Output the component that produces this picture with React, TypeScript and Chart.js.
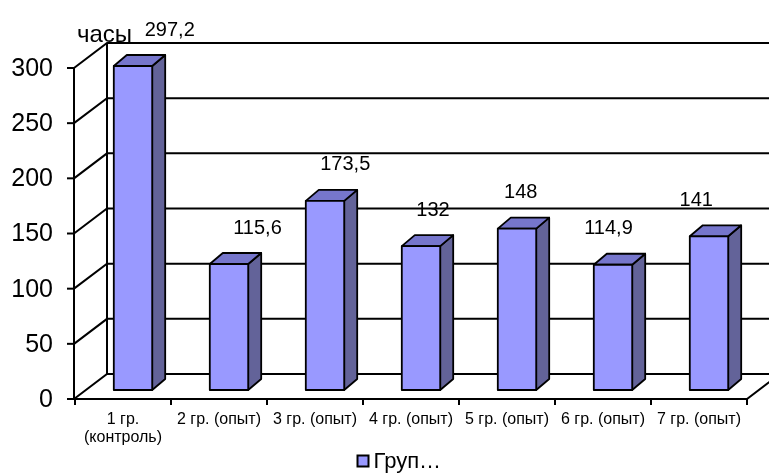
import React, { useEffect, useRef } from "react";
import { Chart, registerables } from "chart.js";

Chart.register(...registerables);

// Hours per group
const categories: (string | string[])[] = [
  ["1 гр.", "(контроль)"],
  "2 гр. (опыт)",
  "3 гр. (опыт)",
  "4 гр. (опыт)",
  "5 гр. (опыт)",
  "6 гр. (опыт)",
  "7 гр. (опыт)",
];
const hours = [297.2, 115.6, 173.5, 132, 148, 114.9, 141];
const yTicks = [0, 50, 100, 150, 200, 250, 300];
const axisTitle = "часы";
const legendText = "Груп…";

const FONT = "'Liberation Sans', Arial, sans-serif";

// Oblique projection of the plot box
const WALL_DX = 33;
const WALL_DY = -25;
// Bar position inside the box and bar depth
const BAR_DX = 10;
const BAR_DY = -9;
const BAR_SX = 13;
const BAR_SY = -11;
const BAR_K = 0.988;

const FRONT = "#9999FF";
const SIDE = "#636399";
const TOP = "#7676CC";

const fmt = (v: number) => String(v).replace(".", ",");

const box3d = {
  id: "box3d",
  beforeDatasetsDraw(chart: any) {
    const { ctx, chartArea } = chart;
    const y = chart.scales.y;
    const x = chart.scales.x;
    const L = chartArea.left - 1;
    const R = chartArea.right;
    const B = y.getPixelForValue(0);
    const W = chart.width;
    ctx.save();
    ctx.strokeStyle = "#000";
    ctx.lineWidth = 2;
    ctx.lineCap = "butt";

    // back wall gridlines + side wall diagonals
    yTicks.forEach((t) => {
      const py = y.getPixelForValue(t);
      ctx.beginPath();
      ctx.moveTo(L, py);
      ctx.lineTo(L + WALL_DX, py + WALL_DY);
      ctx.lineTo(W + 2, py + WALL_DY);
      ctx.stroke();
      // tick mark
      ctx.beginPath();
      ctx.moveTo(L - 7, py);
      ctx.lineTo(L, py);
      ctx.stroke();
    });
    const topY = y.getPixelForValue(300);
    // front and back vertical edges of the side wall
    ctx.beginPath();
    ctx.moveTo(L, topY);
    ctx.lineTo(L, B);
    ctx.moveTo(L + WALL_DX, topY + WALL_DY);
    ctx.lineTo(L + WALL_DX, B + WALL_DY);
    ctx.stroke();

    // floor front edge and right edge
    ctx.beginPath();
    ctx.moveTo(L, B);
    ctx.lineTo(R, B);
    ctx.lineTo(R + WALL_DX, B + WALL_DY);
    ctx.stroke();

    // category tick marks
    const n = categories.length;
    for (let i = 0; i <= n; i++) {
      const px = i < n
        ? x.getPixelForValue(i) - (x.getPixelForValue(1) - x.getPixelForValue(0)) / 2
        : R;
      ctx.beginPath();
      ctx.moveTo(px, B);
      ctx.lineTo(px, B + 6);
      ctx.stroke();
    }

    // y tick labels
    ctx.fillStyle = "#000";
    ctx.font = `25px ${FONT}`;
    ctx.textAlign = "right";
    ctx.textBaseline = "middle";
    yTicks.forEach((t) => {
      ctx.fillText(String(t), L - 21, y.getPixelForValue(t) + 1);
    });

    // axis title
    ctx.font = `24px ${FONT}`;
    ctx.textAlign = "left";
    ctx.textBaseline = "alphabetic";
    ctx.fillText(axisTitle, L + 3, topY - 26);

    // category labels
    ctx.font = `16px ${FONT}`;
    ctx.textAlign = "center";
    ctx.textBaseline = "middle";
    categories.forEach((c, i) => {
      const px = x.getPixelForValue(i);
      const lines = Array.isArray(c) ? c : [c];
      lines.forEach((s, j) => ctx.fillText(s, px, B + 21 + j * 18));
    });

    // legend
    const lx = chart.width / 2 - 27;
    const ly = 461;
    ctx.fillStyle = FRONT;
    ctx.fillRect(lx, ly - 5.5, 11, 11);
    ctx.lineWidth = 2;
    ctx.strokeRect(lx, ly - 5.5, 11, 11);
    ctx.fillStyle = "#000";
    ctx.font = `22px ${FONT}`;
    ctx.textAlign = "left";
    ctx.fillText(legendText, lx + 16, ly + 1);
    ctx.restore();
  },
  afterDatasetsDraw(chart: any) {
    const { ctx } = chart;
    const meta = chart.getDatasetMeta(0);
    const xs = chart.scales.x;
    const mid = xs.getPixelForValue(3);
    const labelPos: { x: number; y: number; t: string }[] = [];
    ctx.save();
    ctx.lineWidth = 1.8;
    ctx.strokeStyle = "#000";
    ctx.lineJoin = "round";
    meta.data.forEach((bar: any, i: number) => {
      const { x, y, base, width } = bar.getProps(["x", "y", "base", "width"], true);
      const l = x - width / 2 + BAR_DX;
      const r = x + width / 2 + BAR_DX;
      const b = base + BAR_DY;
      const t = b - (base - y) * BAR_K;
      // side face
      ctx.fillStyle = SIDE;
      ctx.beginPath();
      ctx.moveTo(r, b);
      ctx.lineTo(r + BAR_SX, b + BAR_SY);
      ctx.lineTo(r + BAR_SX, t + BAR_SY);
      ctx.lineTo(r, t);
      ctx.closePath();
      ctx.fill();
      ctx.stroke();
      // top face
      ctx.fillStyle = TOP;
      ctx.beginPath();
      ctx.moveTo(l, t);
      ctx.lineTo(l + BAR_SX, t + BAR_SY);
      ctx.lineTo(r + BAR_SX, t + BAR_SY);
      ctx.lineTo(r, t);
      ctx.closePath();
      ctx.fill();
      ctx.stroke();
      // front face
      ctx.fillStyle = FRONT;
      ctx.fillRect(l, t, r - l, b - t);
      ctx.strokeRect(l, t, r - l, b - t);
      const cx = (l + r) / 2;
      labelPos.push({ x: cx + 12 - 0.086 * (cx - BAR_DX - mid), y: t - 36, t: fmt(hours[i]) });
    });
    ctx.fillStyle = "#000";
    ctx.font = `20px ${FONT}`;
    ctx.textAlign = "center";
    ctx.textBaseline = "middle";
    labelPos.forEach((p) => ctx.fillText(p.t, p.x, p.y));
    ctx.restore();
  },
};

export default function App() {
  const ref = useRef<HTMLCanvasElement>(null);
  useEffect(() => {
    if (!ref.current) return;
    const chart = new Chart(ref.current, {
      type: "bar",
      data: {
        labels: categories as any,
        datasets: [
          {
            label: legendText,
            data: hours,
            backgroundColor: "rgba(0,0,0,0)",
            borderWidth: 0,
            barPercentage: 0.4,
            categoryPercentage: 1,
          },
        ],
      },
      options: {
        responsive: false,
        animation: false,
        layout: { padding: { left: 75, right: 22, top: 68, bottom: 75 } },
        plugins: { legend: { display: false }, tooltip: { enabled: false }, title: { display: false } },
        scales: {
          x: { display: false, offset: true },
          y: { display: false, min: 0, max: 300, ticks: { stepSize: 50 } },
        },
      },
      plugins: [box3d],
    });
    return () => chart.destroy();
  }, []);
  return (
    <div style={{ position: "fixed", left: 0, top: 0, width: 769, height: 474, background: "#fff" }}>
      <canvas ref={ref} width={769} height={474} style={{ display: "block" }} />
    </div>
  );
}
